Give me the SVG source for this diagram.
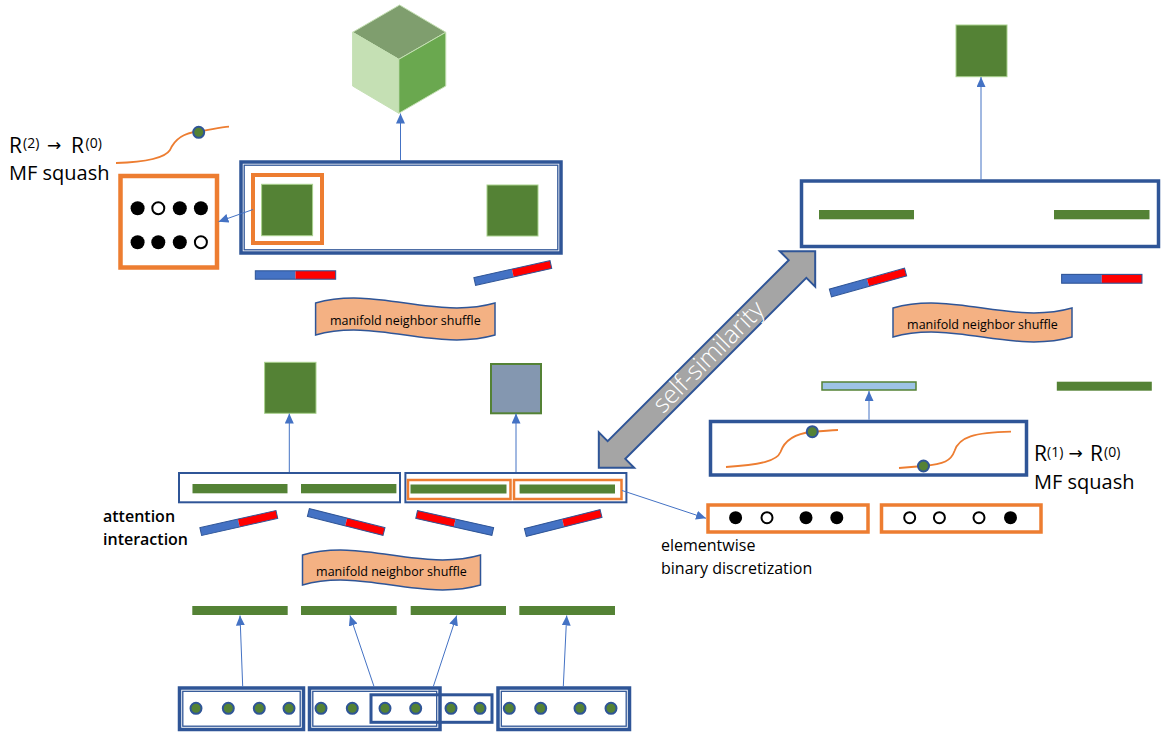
<svg xmlns="http://www.w3.org/2000/svg" width="1161" height="733" viewBox="0 0 1161 733">
<style>
text{font-family:"Open Sans","Noto Sans","Liberation Sans",sans-serif;fill:#000}
.lbl{font-size:20px;font-weight:500}
.sup{font-size:14px}
.arr{font-family:"DejaVu Sans",sans-serif;font-size:17px}
.mid{font-size:16px;font-weight:500}
.bold{font-size:16px;font-weight:600}
.ban{font-size:12.5px;font-weight:500;text-anchor:middle}
.conn{stroke:#4472C4;stroke-width:1;fill:none;marker-end:url(#ah)}
.gb{fill:#548235}
.bx{fill:#fff;stroke:#2F5597;stroke-width:2}
.bxt{fill:#fff;stroke:#2F5597;stroke-width:3.5}
.inner{fill:none;stroke:#2F5597;stroke-width:1.3}
.ob{fill:#fff;stroke:#ED7D31;stroke-width:4}
.ob2{fill:#fff;stroke:#ED7D31;stroke-width:2.5}
.banner{fill:#F4B183;stroke:#2F5597;stroke-width:1.5}
.bb{fill:#4472C4}
.br{fill:#FF0000}
.bo{fill:none;stroke:#2F5597;stroke-width:1}
.dot{fill:#548235;stroke:#2F5597;stroke-width:2}
.blk{fill:#000}
.opn{fill:#fff;stroke:#000;stroke-width:2}
.sq{stroke:#A9D18E;stroke-width:1}
.curve{fill:none;stroke:#ED7D31;stroke-width:1.8}
</style>
<defs>
<marker id="ah" markerUnits="userSpaceOnUse" markerWidth="10" markerHeight="9" refX="10" refY="4.5" orient="auto">
<path d="M0,0 L10,4.5 L0,9 Z" fill="#4472C4"/>
</marker>
<g id="bar">
<rect x="-39" y="-4" width="39" height="8" class="bb"/>
<rect x="0" y="-4" width="39" height="8" class="br"/>
<rect x="-39" y="-4" width="78" height="8" class="bo"/>
</g>
<g id="barR">
<rect x="-39" y="-4" width="39" height="8" class="br"/>
<rect x="0" y="-4" width="39" height="8" class="bb"/>
<rect x="-39" y="-4" width="78" height="8" class="bo"/>
</g>
</defs>

<!-- cube -->
<g id="cube">
<polygon points="399.6,5 445.8,32.3 398.8,59.3 352.6,32.3" fill="#7F9E6E" stroke="#C5E0B4" stroke-width="1"/>
<polygon points="352.6,32.3 398.8,59.3 398.8,113.3 352.6,86" fill="#C5E0B4" stroke="#C5E0B4" stroke-width="1"/>
<polygon points="398.8,59.3 445.8,32.3 445.8,86 398.8,113.3" fill="#6AA84F" stroke="#C5E0B4" stroke-width="1"/>
</g>

<!-- top-left block -->
<g id="topLeftBox">
<rect x="241" y="162" width="320" height="91" class="bxt"/>
<rect x="244.2" y="165.2" width="313.6" height="84.6" class="inner"/>
<rect x="253" y="175" width="69" height="68" class="ob"/>
<rect x="261.6" y="184.3" width="51" height="51.4" class="gb sq"/>
<rect x="487" y="185" width="51" height="51" class="gb sq"/>
</g>

<g id="squashTL">
<path class="curve" d="M116,163 C148,162 165,158 170,150 C175,139 183,133 198,131.5 C210,130 220,127 229,126.7"/>
<circle cx="198.7" cy="132.3" r="5.5" class="dot"/>
<text class="lbl" style="font-size:21px"><tspan x="9" y="153">R</tspan><tspan class="sup" x="23" y="148">(2)</tspan><tspan class="arr" x="47" y="151">→</tspan><tspan x="71" y="153">R</tspan><tspan class="sup" x="85.5" y="148">(0)</tspan></text>
<text class="lbl" x="9" y="180">MF squash</text>
</g>

<g id="binaryTL">
<rect x="120.5" y="176" width="96.5" height="91.5" class="ob" style="stroke-width:4.5"/>
<circle cx="137.6" cy="208.3" r="7" class="blk"/>
<circle cx="158.3" cy="208.3" r="6" class="opn"/>
<circle cx="179.8" cy="208.3" r="7" class="blk"/>
<circle cx="200.9" cy="208.3" r="7" class="blk"/>
<circle cx="137.6" cy="242.3" r="7" class="blk"/>
<circle cx="158.3" cy="242.3" r="7" class="blk"/>
<circle cx="179.8" cy="242.3" r="7" class="blk"/>
<circle cx="200.9" cy="242.3" r="6" class="opn"/>
</g>

<g id="barsTop">
<use href="#bar" transform="translate(295.5,275) scale(1.03,1.05)"/>
<use href="#bar" transform="translate(512.8,273) rotate(-12.5)"/>
<use href="#bar" transform="translate(868,282.5) rotate(-15.5)"/>
<use href="#bar" transform="translate(1101.8,278.8) scale(1.03,1.1)"/>
</g>

<g id="shuffleTL">
<path class="banner" d="M315.6,303 C375.4,286 435.2,320 495,303 L495,335 C435.2,352 375.4,318 315.6,335 Z"/>
<text class="ban" x="405.3" y="325">manifold neighbor shuffle</text>
</g>
<g id="shuffleTR">
<path class="banner" d="M893,308 C952.7,291 1012.3,325 1072,308 L1072,337 C1012.3,354 952.7,320 893,337 Z"/>
<text class="ban" x="982.5" y="329">manifold neighbor shuffle</text>
</g>

<!-- top right -->
<g id="topRightSquare">
<rect x="956" y="25" width="51" height="51.7" class="gb sq"/>
</g>
<g id="topRightBox">
<rect x="801.5" y="181" width="357" height="65.5" class="bxt"/>
<rect x="819" y="210" width="95" height="9.3" class="gb"/>
<rect x="1054" y="210" width="95.5" height="9.3" class="gb"/>
</g>

<!-- self-similarity arrow -->
<g id="selfSimilarity" transform="translate(707,359.5) rotate(-45)">
<polygon points="-153,0 -128,-25 -128,-12.5 128,-12.5 128,-25 153,0 128,25 128,12.5 -128,12.5 -128,25" fill="#A5A5A5" stroke="#2F5597" stroke-width="2" stroke-linejoin="miter"/>
<text x="3" y="7.5" style="font-size:25px;font-weight:300;fill:#fff;text-anchor:middle">self-similarity</text>
</g>

<!-- middle left -->
<g id="midSquareGreen">
<rect x="264.6" y="362.3" width="51.4" height="51" class="gb sq"/>
</g>
<g id="midSquareGray">
<rect x="491" y="364" width="50" height="49.3" fill="#8497B0" stroke="#548235" stroke-width="2"/>
</g>
<g id="midLeftBox">
<rect x="179" y="473" width="221" height="29.3" class="bx"/>
<rect x="192.5" y="484" width="95" height="9.3" class="gb"/>
<rect x="301" y="484" width="95.4" height="9.3" class="gb"/>
</g>
<g id="midRightBox">
<rect x="405.4" y="473" width="221" height="29.3" class="bx"/>
<rect x="408" y="480" width="102.5" height="19" class="ob2"/>
<rect x="514" y="480" width="107.5" height="19" class="ob2"/>
<rect x="410.5" y="484.5" width="96" height="9" class="gb"/>
<rect x="519.6" y="484.5" width="95.4" height="9" class="gb"/>
</g>
<g id="attention">
<text class="bold" x="103" y="522">attention</text>
<text class="bold" x="103" y="545">interaction</text>
</g>
<g id="barsMid">
<use href="#bar" transform="translate(238.8,523) rotate(-12.7)"/>
<use href="#bar" transform="translate(346.2,522) rotate(14.2)"/>
<use href="#barR" transform="translate(454.7,523) rotate(12.6)"/>
<use href="#bar" transform="translate(563.2,523) rotate(-14.1)"/>
</g>
<g id="shuffleBottom">
<path class="banner" d="M302.5,555 C361.8,538 421.2,572 480.5,555 L480.5,585 C421.2,602 361.8,568 302.5,585 Z"/>
<text class="ban" x="391.5" y="576">manifold neighbor shuffle</text>
</g>

<!-- middle right -->
<g id="lightBar">
<rect x="822" y="382" width="94" height="8" fill="#9DC3E6" stroke="#548235" stroke-width="1.5"/>
</g>
<g id="greenBarRight">
<rect x="1056.8" y="381.7" width="95" height="9" class="gb"/>
</g>
<g id="squashRight">
<rect x="710.5" y="421.5" width="316" height="53.5" class="bxt"/>
<path class="curve" d="M726,467 C760,465 777,461 780.5,452 C785,439 796,433.5 812,432 C822,431 830,430.3 838,430"/>
<circle cx="812.3" cy="431.7" r="5.5" class="dot"/>
<path class="curve" d="M899,468 C912,467 918,466.5 923.5,466 C944,464 951,461 954.5,451 C959,437 974,432.5 1011,431.7"/>
<circle cx="923.5" cy="466" r="5.5" class="dot"/>
<text class="lbl" style="font-size:21px"><tspan x="1034" y="461">R</tspan><tspan class="sup" x="1047" y="456.5">(1)</tspan><tspan class="arr" x="1068.5" y="459">→</tspan><tspan x="1090" y="461">R</tspan><tspan class="sup" x="1104" y="456.5">(0)</tspan></text>
<text class="lbl" x="1034" y="489">MF squash</text>
</g>
<g id="binaryRight1">
<rect x="708" y="505" width="160" height="27" class="ob" style="stroke-width:3.5"/>
<circle cx="735.6" cy="517.7" r="6.5" class="blk"/>
<circle cx="767" cy="517.7" r="5.5" class="opn"/>
<circle cx="806" cy="517.7" r="6.5" class="blk"/>
<circle cx="836.8" cy="517.7" r="6.5" class="blk"/>
</g>
<g id="binaryRight2">
<rect x="881.5" y="505" width="159.5" height="27" class="ob" style="stroke-width:3.5"/>
<circle cx="909.7" cy="517.7" r="5.5" class="opn"/>
<circle cx="939.4" cy="517.7" r="5.5" class="opn"/>
<circle cx="979" cy="517.7" r="5.5" class="opn"/>
<circle cx="1010.5" cy="517.7" r="6.5" class="blk"/>
</g>
<g id="elementwise">
<text class="mid" x="661" y="551">elementwise</text>
<text class="mid" x="661" y="574">binary discretization</text>
</g>

<!-- bottom -->
<g id="bottomBars">
<rect x="192.3" y="606" width="95.4" height="9" class="gb"/>
<rect x="301" y="606" width="95.7" height="9" class="gb"/>
<rect x="410.7" y="606" width="95.3" height="9" class="gb"/>
<rect x="519.3" y="606" width="95.7" height="9" class="gb"/>
</g>
<g id="inputBox1">
<rect x="179.5" y="688" width="124" height="41.5" class="bx" style="stroke-width:3.5"/>
<rect x="182.8" y="691.3" width="117.4" height="34.9" class="inner"/>
</g>
<g id="inputBox2">
<rect x="309.5" y="688" width="130.5" height="41.5" class="bx" style="stroke-width:3.5"/>
<rect x="312.8" y="691.3" width="123.9" height="34.9" class="inner"/>
</g>
<g id="inputBox3">
<rect x="371" y="694.8" width="121" height="27.5" fill="none" stroke="#2F5597" stroke-width="3"/>
</g>
<g id="inputBox4">
<rect x="498" y="688" width="131.5" height="41.5" class="bx" style="stroke-width:3.5"/>
<rect x="501.3" y="691.3" width="124.9" height="34.9" class="inner"/>
</g>
<g id="inputDots">
<circle cx="196" cy="708.3" r="5.5" class="dot"/>
<circle cx="228.3" cy="708.3" r="5.5" class="dot"/>
<circle cx="259.3" cy="708.3" r="5.5" class="dot"/>
<circle cx="289" cy="708.3" r="5.5" class="dot"/>
<circle cx="321" cy="708.3" r="5.5" class="dot"/>
<circle cx="352.3" cy="708.3" r="5.5" class="dot"/>
<circle cx="385" cy="708.3" r="5.5" class="dot"/>
<circle cx="415.7" cy="708.3" r="5.5" class="dot"/>
<circle cx="451" cy="708.3" r="5.5" class="dot"/>
<circle cx="480" cy="708.3" r="5.5" class="dot"/>
<circle cx="509.3" cy="708.3" r="5.5" class="dot"/>
<circle cx="540.7" cy="708.3" r="5.5" class="dot"/>
<circle cx="580" cy="708.3" r="5.5" class="dot"/>
<circle cx="611" cy="708.3" r="5.5" class="dot"/>
</g>

<!-- connectors -->
<g id="connectors">
<line class="conn" x1="400.5" y1="160.5" x2="400.5" y2="113.5"/>
<line class="conn" x1="253" y1="209.5" x2="218.5" y2="221.7"/>
<line class="conn" x1="981" y1="179.5" x2="981" y2="77"/>
<line class="conn" x1="289.3" y1="472" x2="289.3" y2="413.5"/>
<line class="conn" x1="516" y1="472" x2="516" y2="413.5"/>
<line class="conn" x1="622" y1="490.5" x2="706" y2="518.3"/>
<line class="conn" x1="869" y1="419.7" x2="869" y2="391"/>
<line class="conn" x1="242.7" y1="686.5" x2="240" y2="615.5"/>
<line class="conn" x1="374" y1="686.5" x2="350" y2="615.5"/>
<line class="conn" x1="433.3" y1="686.5" x2="456.7" y2="615.5"/>
<line class="conn" x1="563.3" y1="686.5" x2="566.7" y2="615.5"/>
</g>
</svg>
